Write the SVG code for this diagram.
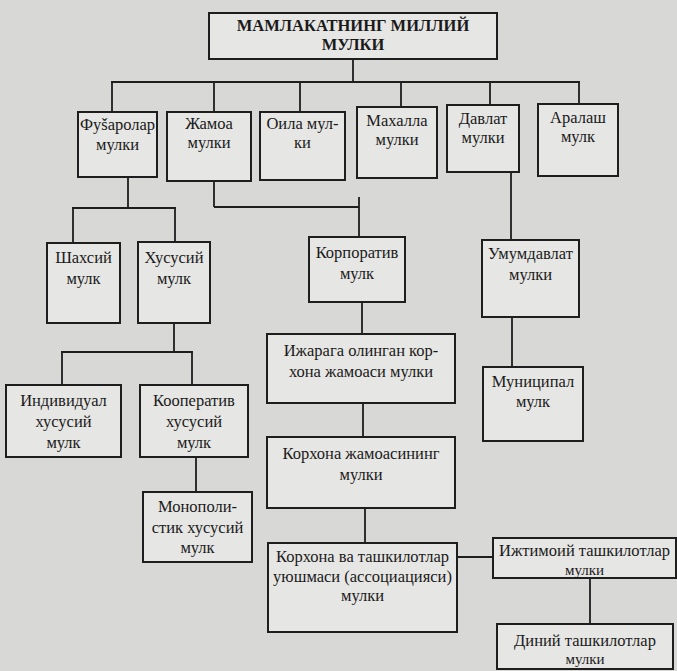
<svg xmlns="http://www.w3.org/2000/svg" width="677" height="671" viewBox="0 0 677 671">
<style>
.box{fill:#e6e6e4;stroke:#1e1e1e;stroke-width:2}
text{font-family:"Liberation Serif","Times New Roman",serif;font-size:16.5px;fill:#1a1a1a;text-anchor:middle}
.s{font-size:15px}
.b{font-weight:bold;font-size:16.5px}
#connectors line{stroke:#1e1e1e;stroke-width:1.8}
</style>
<rect x="0" y="0" width="677" height="671" fill="#d8d8d6"/>
<g id="connectors">
<line x1="353" y1="59" x2="353" y2="82"/>
<line x1="111" y1="82" x2="580" y2="82"/>
<line x1="112" y1="82" x2="112" y2="112"/>
<line x1="214" y1="82" x2="214" y2="112"/>
<line x1="300" y1="82" x2="300" y2="112"/>
<line x1="401" y1="82" x2="401" y2="107"/>
<line x1="490" y1="82" x2="490" y2="105"/>
<line x1="579" y1="82" x2="579" y2="104"/>
<line x1="128" y1="177" x2="128" y2="208"/>
<line x1="72" y1="208" x2="176" y2="208"/>
<line x1="73" y1="208" x2="73" y2="243"/>
<line x1="175" y1="208" x2="175" y2="242"/>
<line x1="214" y1="181" x2="214" y2="207"/>
<line x1="214" y1="207" x2="359" y2="207"/>
<line x1="359" y1="197" x2="359" y2="237"/>
<line x1="511" y1="172" x2="511" y2="240"/>
<line x1="512" y1="317" x2="512" y2="367"/>
<line x1="174" y1="323" x2="174" y2="352"/>
<line x1="61" y1="352" x2="193" y2="352"/>
<line x1="62" y1="352" x2="62" y2="385"/>
<line x1="192" y1="352" x2="192" y2="385"/>
<line x1="196" y1="457" x2="196" y2="492"/>
<line x1="362" y1="302" x2="362" y2="334"/>
<line x1="363" y1="403" x2="363" y2="437"/>
<line x1="365" y1="508" x2="365" y2="543"/>
<line x1="457" y1="557" x2="493" y2="557"/>
<line x1="590" y1="578" x2="590" y2="624"/>
</g>
<g id="root"><rect class="box" x="209" y="13" width="288" height="46"/><text class="b" x="353" y="31">МАМЛАКАТНИНГ МИЛЛИЙ</text><text class="b" x="353" y="50">МУЛКИ</text></g>
<g id="fuqarolar"><rect class="box" x="78" y="112" width="79" height="65"/><text x="117.5" y="130">Фуšаролар</text><text x="117.5" y="150">мулки</text></g>
<g id="jamoa"><rect class="box" x="167" y="112" width="84" height="69"/><text x="209" y="129">Жамоа</text><text x="209" y="148">мулки</text></g>
<g id="oila"><rect class="box" x="260" y="112" width="85" height="68"/><text x="302.5" y="129">Оила мул-</text><text x="302.5" y="148">ки</text></g>
<g id="mahalla"><rect class="box" x="357" y="107" width="80" height="71"/><text x="397" y="126">Махалла</text><text x="397" y="145">мулки</text></g>
<g id="davlat"><rect class="box" x="447" y="105" width="72" height="67"/><text x="483" y="124">Давлат</text><text x="483" y="143">мулки</text></g>
<g id="aralash"><rect class="box" x="538" y="104" width="80" height="72"/><text x="578" y="123">Аралаш</text><text x="578" y="142">мулк</text></g>
<g id="shahsiy"><rect class="box" x="47" y="243" width="73" height="80"/><text x="83.5" y="263">Шахсий</text><text x="83.5" y="284">мулк</text></g>
<g id="xususiy"><rect class="box" x="138" y="242" width="72" height="81"/><text x="174" y="263">Хусусий</text><text x="174" y="284">мулк</text></g>
<g id="korporativ"><rect class="box" x="309" y="237" width="96" height="65"/><text x="357" y="258">Корпоратив</text><text x="357" y="279">мулк</text></g>
<g id="umumdavlat"><rect class="box" x="482" y="240" width="97" height="77"/><text x="530.5" y="259">Умумдавлат</text><text x="530.5" y="280">мулки</text></g>
<g id="ijaraga"><rect class="box" x="267" y="334" width="188" height="69"/><text x="361" y="356">Ижарага олинган кор-</text><text x="361" y="377">хона жамоаси мулки</text></g>
<g id="munitsipal"><rect class="box" x="483" y="367" width="100" height="74"/><text x="533" y="387">Муниципал</text><text x="533" y="407">мулк</text></g>
<g id="individual"><rect class="box" x="6" y="385" width="115" height="72"/><text x="63.5" y="406">Индивидуал</text><text x="63.5" y="427">хусусий</text><text x="63.5" y="448">мулк</text></g>
<g id="kooperativ"><rect class="box" x="140" y="385" width="108" height="72"/><text x="194" y="406">Кооператив</text><text x="194" y="427">хусусий</text><text x="194" y="448">мулк</text></g>
<g id="korxona-jamoasi"><rect class="box" x="267" y="437" width="188" height="71"/><text x="361" y="459">Корхона жамоасининг</text><text x="361" y="480">мулки</text></g>
<g id="monopolistik"><rect class="box" x="143" y="492" width="109" height="70"/><text x="197.5" y="512">Монополи-</text><text x="197.5" y="533">стик хусусий</text><text x="197.5" y="553">мулк</text></g>
<g id="uyushma"><rect class="box" x="268" y="543" width="189" height="89"/><text x="362.5" y="562">Корхона ва ташкилотлар</text><text x="362.5" y="582">уюшмаси (ассоциацияси)</text><text x="362.5" y="601">мулки</text></g>
<g id="ijtimoiy"><rect class="box" x="493" y="538" width="183" height="40"/><text x="584.5" y="556">Ижтимоий ташкилотлар</text><text class="s" x="584.5" y="575">мулки</text></g>
<g id="diniy"><rect class="box" x="497" y="624" width="176" height="45"/><text x="585" y="646">Диний ташкилотлар</text><text class="s" x="585" y="664">мулки</text></g>
</svg>
